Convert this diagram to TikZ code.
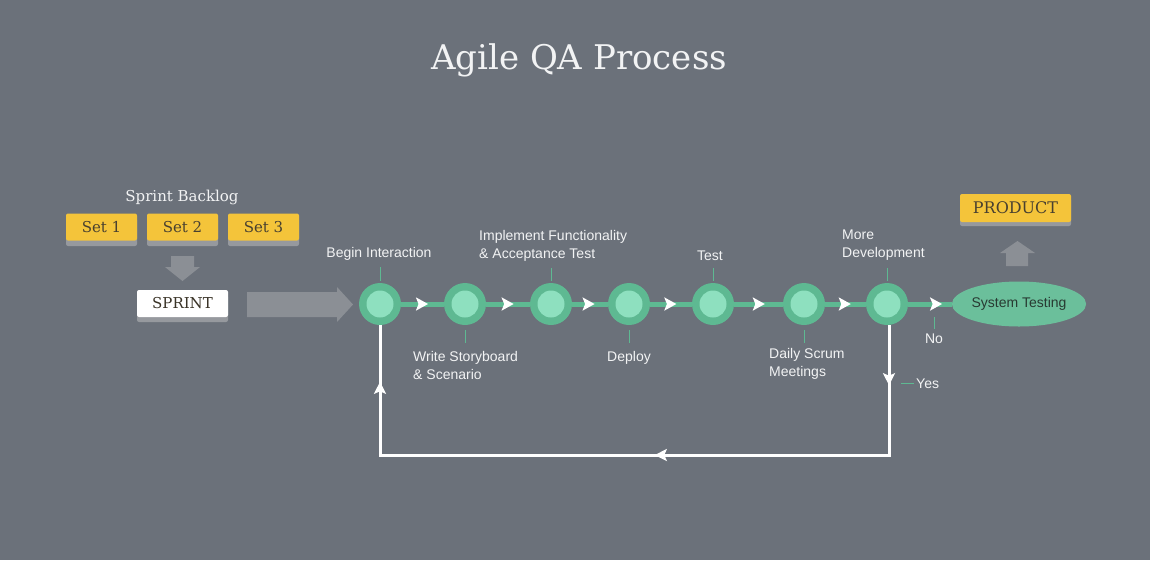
\documentclass[tikz,border=0pt]{standalone}
\usepackage{fontspec}
\usetikzlibrary{arrows.meta,shapes.geometric,decorations.markings}
\newfontfamily\slab{DejaVu Serif}
\newfontfamily\lab{Liberation Sans}
\definecolor{bg}{RGB}{107,113,122}
\definecolor{ringg}{RGB}{94,185,146}
\definecolor{innerg}{RGB}{142,224,191}
\definecolor{yel}{RGB}{244,196,58}
\definecolor{shad}{RGB}{150,153,158}
\definecolor{garrow}{RGB}{139,143,149}
\definecolor{darktxt}{RGB}{72,64,48}
\definecolor{labtxt}{RGB}{242,243,244}
\definecolor{sttxt}{RGB}{40,58,50}
\tikzset{
  x=1pt,y=-1pt,
  ybox/.style={fill=yel,rounded corners=2pt,minimum width=71pt,minimum height=27pt,inner sep=0pt,text=darktxt,font=\slab\fontsize{15}{18}\selectfont},
  shadowbox/.style={fill=shad,rounded corners=2pt},
  stepnode/.style={circle,fill=ringg,minimum size=42pt,inner sep=0pt},
  lbl/.style={text=labtxt,font=\lab\fontsize{14}{18}\selectfont,inner sep=0pt,align=left},
  tickline/.style={draw=ringg,line width=0.9pt},
  gline/.style={draw=ringg,line width=5pt,postaction={decorate},
    decoration={markings,mark=at position #1 with {\arrow[white]{Stealth[length=12pt,width=13pt,inset=2.5pt]}}}},
  gline/.default=0.63,
  loopline/.style={draw=white,line width=3pt,postaction={decorate},
    decoration={markings,
      mark=at position 60pt with {\arrow[white]{Stealth[length=12pt,width=12pt,inset=2.5pt]}},
      mark=at position 364pt with {\arrow[white]{Stealth[length=12pt,width=12pt,inset=2.5pt]}},
      mark=at position 712pt with {\arrow[white]{Stealth[length=12pt,width=12pt,inset=2.5pt]}}}},
}
\begin{document}
\begin{tikzpicture}
\fill[bg] (0,0) rectangle (1150,560);
\useasboundingbox (0,0) rectangle (1150,560);

% title
\node[text=labtxt,font=\slab\fontsize{34}{40}\selectfont] (title) at (579,60) {Agile QA Process};

% sprint backlog
\node[text=labtxt,font=\slab\fontsize{15}{18}\selectfont] (sb) at (182,197) {Sprint Backlog};
\fill[shadowbox] (66,218) rectangle (137,246);
\fill[shadowbox] (147,218) rectangle (218,246);
\fill[shadowbox] (228,218) rectangle (299,246);
\node[ybox] (s1) at (101.5,227) {Set 1};
\node[ybox] (s2) at (182.5,227) {Set 2};
\node[ybox] (s3) at (263.5,227) {Set 3};

% down arrow
\fill[garrow] (171,256) -- (194,256) -- (194,267) -- (200,267) -- (182.5,281) -- (165,267) -- (171,267) -- cycle;

% sprint
\fill[shadowbox] (137,295) rectangle (228,322);
\node[fill=white,rounded corners=2pt,minimum width=91pt,minimum height=27pt,inner sep=0pt,text=darktxt!80!black,font=\slab\fontsize{15}{18}\selectfont] (sprint) at (182.5,303.5) {SPRINT};

% big arrow
\fill[garrow] (247,292) -- (337,292) -- (337,287) -- (353,304.5) -- (337,322) -- (337,317) -- (247,317) -- cycle;

% steps
\node[stepnode] (c1) at (380,304) {};
\node[stepnode] (c2) at (465,304) {};
\node[stepnode] (c3) at (551,304) {};
\node[stepnode] (c4) at (629,304) {};
\node[stepnode] (c5) at (713,304) {};
\node[stepnode] (c6) at (804,304) {};
\node[stepnode] (c7) at (887,304) {};
\foreach \c in {c1,c2,c3,c4,c5,c6,c7} {\fill[innerg] (\c) circle (13.5);}

\node[ellipse,fill=ringg!92!white,minimum width=126pt,minimum height=45pt,inner sep=0pt,text=sttxt,font=\lab\fontsize{14}{16}\selectfont] (st) at (1019,304) {System Testing};

\draw[gline] (c1) -- (c2);
\draw[gline] (c2) -- (c3);
\draw[gline] (c3) -- (c4);
\draw[gline] (c4) -- (c5);
\draw[gline] (c5) -- (c6);
\draw[gline] (c6) -- (c7);
\draw[gline=0.78] (c7) -- (st);

% loop
\coordinate (lr) at (889,455);
\coordinate (ll) at (380,455);
\draw[loopline] ([xshift=2pt]c7.south) -- (lr) -- (ll) -- (c1.south);

% ticks
\draw[tickline] ([yshift=2pt]c1.north) -- ++(0,-14);
\draw[tickline] ([yshift=-5pt]c2.south) -- ++(0,13);
\draw[tickline] ([yshift=2pt]c3.north) -- ++(0,-13);
\draw[tickline] ([yshift=-5pt]c4.south) -- ++(0,13);
\draw[tickline] ([yshift=2pt]c5.north) -- ++(0,-13);
\draw[tickline] ([yshift=-5pt]c6.south) -- ++(0,13);
\draw[tickline] ([yshift=2pt]c7.north) -- ++(0,-13);
\coordinate (not) at (934,317);
\draw[tickline] (not) -- ++(0,12);
\coordinate (yest) at (901,383);
\draw[tickline] (yest) -- ++(13,0);

% labels
\node[lbl,anchor=base] (l1) at (379,257) {Begin Interaction};
\node[lbl,anchor=base west] (l2) at (413,379) {Write Storyboard\\\& Scenario};
\node[lbl,anchor=base west] (l3) at (479,258) {Implement Functionality\\\& Acceptance Test};
\node[lbl,anchor=base] (l4) at (629,361) {Deploy};
\node[lbl,anchor=base] (l5) at (710,260) {Test};
\node[lbl,anchor=base west] (l6) at (769,376) {Daily Scrum\\Meetings};
\node[lbl,anchor=base west] (l7) at (842,257) {More\\Development};
\node[lbl,anchor=base] (no) at (934,343) {No};
\node[lbl,anchor=base west] (yes) at (916,388) {Yes};

% product
\fill[shadowbox] (960,198) rectangle (1071,226);
\node[ybox,minimum width=111pt,minimum height=28pt,font=\slab\fontsize{16}{18}\selectfont] (prod) at (1015.5,208) {PRODUCT};
\fill[garrow] (1006,266) -- (1006,253) -- (1000,253) -- (1017.5,241) -- (1035,253) -- (1028,253) -- (1028,266) -- cycle;
\end{tikzpicture}
\end{document}
